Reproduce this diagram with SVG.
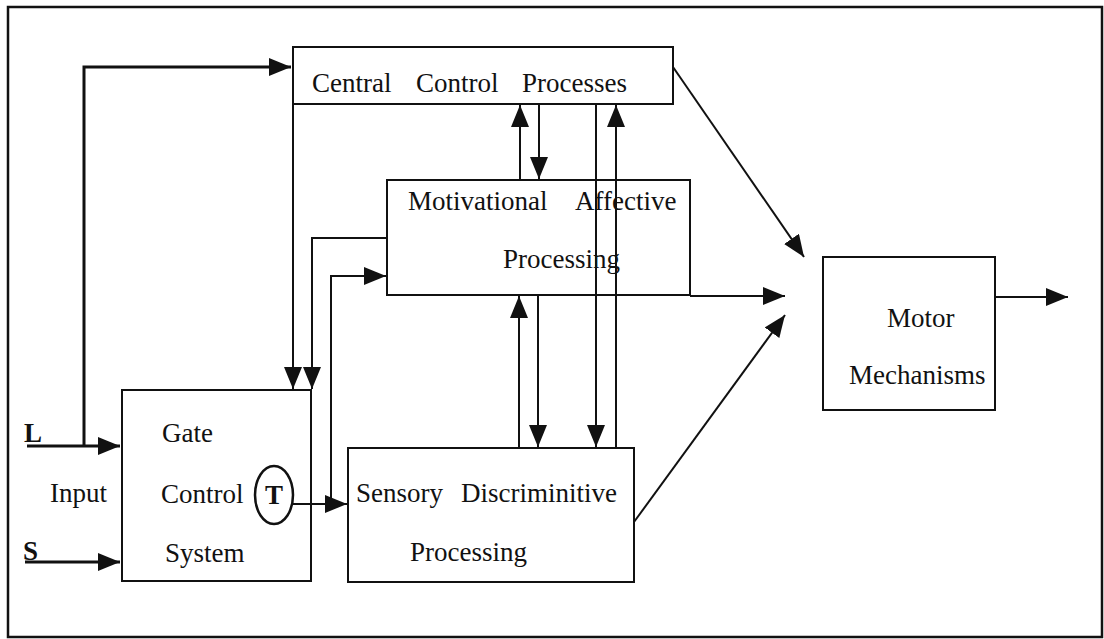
<svg xmlns="http://www.w3.org/2000/svg" width="1104" height="639" viewBox="0 0 1104 639">
<style>
.box{fill:none;stroke:#111;stroke-width:2}
.ln{fill:none;stroke:#111;stroke-width:2}
.thk{fill:none;stroke:#111;stroke-width:3}
.t{font-family:'Liberation Serif','DejaVu Serif',serif;font-size:27px;fill:#111}
.b{font-weight:bold}
</style>
<defs>
<marker id="ah" markerUnits="userSpaceOnUse" markerWidth="24" markerHeight="20" refX="22" refY="9" orient="auto">
<path d="M0,0 L22,9 L0,18 Z" fill="#111"/>
</marker>
</defs>
<rect width="1104" height="639" fill="#fff"/>
<path d="M8,637 L8,7 L1102,7 L1102,637 Z" fill="none" stroke="#111" stroke-width="2.5"/>

<g id="central" class="t" font-family="Liberation Serif, serif">
<rect class="box" x="293" y="47" width="380" height="57"/>
<text x="312" y="92">Central</text>
<text x="416" y="92">Control</text>
<text x="522" y="92">Processes</text>
</g>
<g id="motivational" class="t" font-family="Liberation Serif, serif">
<rect class="box" x="387" y="180" width="303" height="115"/>
<text x="408" y="210">Motivational</text>
<text x="575" y="210">Affective</text>
<text x="503" y="268">Processing</text>
</g>
<g id="gate" class="t" font-family="Liberation Serif, serif">
<rect class="box" x="122" y="390" width="189" height="191"/>
<text x="162" y="442">Gate</text>
<text x="161" y="503">Control</text>
<text x="165" y="562">System</text>
<ellipse cx="274" cy="495" rx="19" ry="29" fill="none" stroke="#111" stroke-width="2.5"/>
<text class="b" x="274" y="504" text-anchor="middle">T</text>
</g>
<g id="sensory" class="t" font-family="Liberation Serif, serif">
<rect class="box" x="348" y="448" width="286" height="134"/>
<text x="356" y="502">Sensory</text>
<text x="461" y="502">Discriminitive</text>
<text x="410" y="561">Processing</text>
</g>
<g id="motor" class="t" font-family="Liberation Serif, serif">
<rect class="box" x="823" y="257" width="172" height="153"/>
<text x="887" y="327">Motor</text>
<text x="849" y="384">Mechanisms</text>
</g>
<g id="labels" class="t" font-family="Liberation Serif, serif">
<text class="b" x="24" y="442">L</text>
<text x="50" y="502">Input</text>
<text class="b" x="23" y="560">S</text>
</g>

<g id="connectors">
<path class="thk" d="M27,446 L120,446" marker-end="url(#ah)"/>
<path class="thk" d="M84,446 L84,67 L291,67" marker-end="url(#ah)"/>
<path class="thk" d="M25,562 L120,562" marker-end="url(#ah)"/>
<path class="ln" d="M293,104 L293,389" marker-end="url(#ah)"/>
<path class="ln" d="M387,238 L312,238 L312,389" marker-end="url(#ah)"/>
<path class="ln" d="M293,504 L347,504" marker-end="url(#ah)"/>
<path class="ln" d="M331,504 L331,276 L386,276" marker-end="url(#ah)"/>
<path class="ln" d="M520,180 L520,105" marker-end="url(#ah)"/>
<path class="ln" d="M539,104 L539,179" marker-end="url(#ah)"/>
<path class="ln" d="M596,104 L596,447" marker-end="url(#ah)"/>
<path class="ln" d="M616,448 L616,105" marker-end="url(#ah)"/>
<path class="ln" d="M519,448 L519,296" marker-end="url(#ah)"/>
<path class="ln" d="M538,295 L538,447" marker-end="url(#ah)"/>
<path class="ln" d="M690,296 L785,296" marker-end="url(#ah)"/>
<path class="ln" d="M673,67 L804,257" marker-end="url(#ah)"/>
<path class="ln" d="M634,522 L785,315" marker-end="url(#ah)"/>
<path class="ln" d="M995,297 L1068,297" marker-end="url(#ah)"/>
</g>
</svg>
